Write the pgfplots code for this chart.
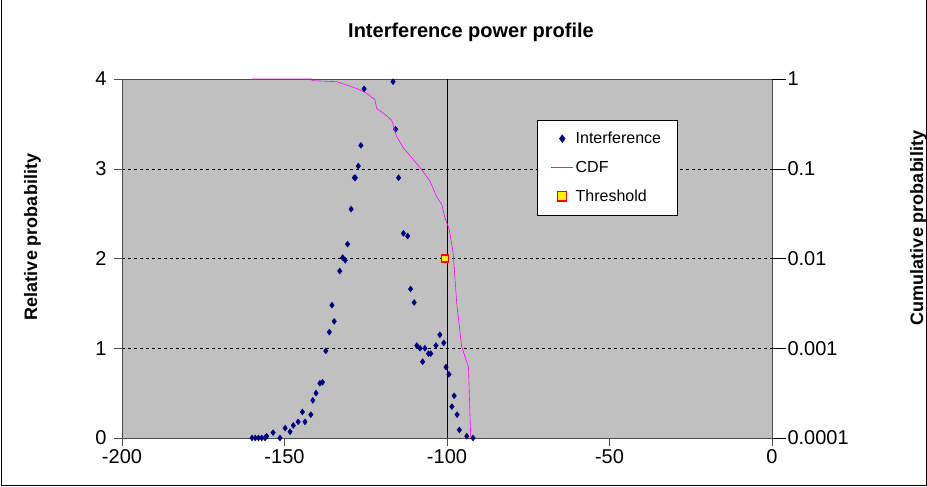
\documentclass[border=0pt]{standalone}
\usepackage{pgfplots}
\pgfplotsset{compat=1.18}
\usepackage{fontspec}
\setmainfont{Liberation Sans}
\definecolor{bg}{RGB}{192,192,192}
\definecolor{navy}{RGB}{0,0,128}
\definecolor{cdf}{RGB}{255,0,255}
\begin{document}
\begin{tikzpicture}
\useasboundingbox (0pt,0pt) rectangle (927pt,487pt);
\clip (0pt,0pt) rectangle (927pt,487pt);
\draw[black,line width=1pt] (1pt,1pt) rectangle (926pt,600pt);
\node[font=\bfseries\fontsize{20}{22}\selectfont] at (471pt,455pt) {Interference power profile};
\node[font=\bfseries\fontsize{18}{20}\selectfont,rotate=90,anchor=base] at (37pt,250pt) {Relative probability};
\node[font=\bfseries\fontsize{18}{20}\selectfont,rotate=90,anchor=base] at (923pt,259pt) {Cumulative probability};
\begin{axis}[at={(122pt,49pt)},anchor=south west,scale only axis,width=650pt,height=359pt,
  xmin=-200,xmax=0,ymin=0,ymax=4,
  axis background/.style={fill=bg},
  axis line style={gray!60!black},
  xtick={-200,-150,-100,-50,0},ytick={0,1,2,3,4},
  tick align=outside,major tick length=8pt,
  tick style={gray!60!black},
  xtick pos=bottom, ytick pos=left,
  ymajorgrids, grid style={black,dashed},
  tick label style={font=\fontsize{20}{22}\selectfont},
  /pgf/number format/assume math mode=true,
  yticklabel style={xshift=-4pt},
  legend style={at={(0.638,0.886)},anchor=north west,draw=black,fill=white,font=\fontsize{16}{18}\selectfont,row sep=12pt,inner xsep=14pt,inner ysep=10pt},
  legend image post style={scale=1.3},
  legend cell align=left]
\addplot[only marks,mark=diamond*,mark size=3pt,navy,mark options={fill=navy}] coordinates {
(-160,0)(-159,0)(-158,0)(-157,0)(-156,0)(-155.5,0.02)(-153.5,0.06)(-151.4,0)(-149.8,0.11)(-148.3,0.07)(-147.3,0.14)
(-145.8,0.18)(-143.7,0.18)(-144.5,0.29)(-141.9,0.26)(-141.3,0.42)(-140.3,0.50)(-139.1,0.61)(-138.3,0.62)
(-137.3,0.97)(-136.2,1.18)(-134.7,1.30)(-135.4,1.48)(-133,1.86)(-132.1,2.01)(-131.3,1.98)(-130.6,2.16)
(-129.5,2.55)(-128.5,2.90)(-128.2,2.90)(-127.3,3.03)(-126.5,3.26)(-125.5,3.89)(-116.6,3.97)(-115.8,3.44)
(-114.9,2.90)(-113.4,2.28)(-112.1,2.25)(-111.2,1.66)(-110.1,1.51)(-109.3,1.03)(-108.3,1.0)(-107.5,0.85)
(-106.8,1.0)(-105.7,0.94)(-105,0.94)(-103.4,1.03)(-102.2,1.15)(-101,1.06)(-100.3,0.79)(-99.4,0.71)
(-97.8,0.47)(-98.5,0.35)(-96.9,0.26)(-96.2,0.09)(-93.9,0.02)(-92,0)};
\addlegendentry{Interference}
\addlegendimage{draw=cdf,line width=0.6pt,no markers}
\addlegendentry{CDF}
\draw[black,line width=0.8pt] (axis cs:-100,0) -- (axis cs:-100,4);
\addplot[only marks,mark=square*,mark size=3.5pt,mark options={fill=yellow,draw=red,line width=1.2pt}] coordinates {(-100.5,2)};
\addlegendentry{Threshold}
\end{axis}
\begin{axis}[at={(122pt,49pt)},anchor=south west,scale only axis,width=650pt,height=359pt,
  xmin=-200,xmax=0,ymode=log,ymin=1e-4,ymax=1,
  axis x line=none, axis y line*=right, axis line style={draw=none},
  ytick={1e-4,1e-3,1e-2,1e-1,1},
  yticklabels={0.0001,0.001,0.01,0.1,1},
  tick align=outside,major tick length=14pt,tick style={black},
  yminorticks=false,
  tick label style={font=\fontsize{20}{22}\selectfont},
  yticklabel style={xshift=-2pt}]
\addplot[draw=cdf,line width=0.6pt,no markers] table[x=x,y expr=10^\thisrow{l}] {
x l
-160 0
-141.6 0
-141.6 -0.019
-134 -0.03
-130.8 -0.067
-127.2 -0.115
-124.7 -0.16
-122.2 -0.23
-121.6 -0.33
-119.6 -0.38
-117 -0.46
-115.5 -0.64
-113.4 -0.77
-110.3 -0.90
-107.8 -1.01
-105.2 -1.14
-103.2 -1.31
-101.6 -1.40
-100.6 -1.55
-99.3 -1.68
-98.1 -1.94
-97 -2.50
-95.5 -2.98
-93.4 -3.21
-92.7 -3.99
};
\end{axis}
\end{tikzpicture}
\end{document}
